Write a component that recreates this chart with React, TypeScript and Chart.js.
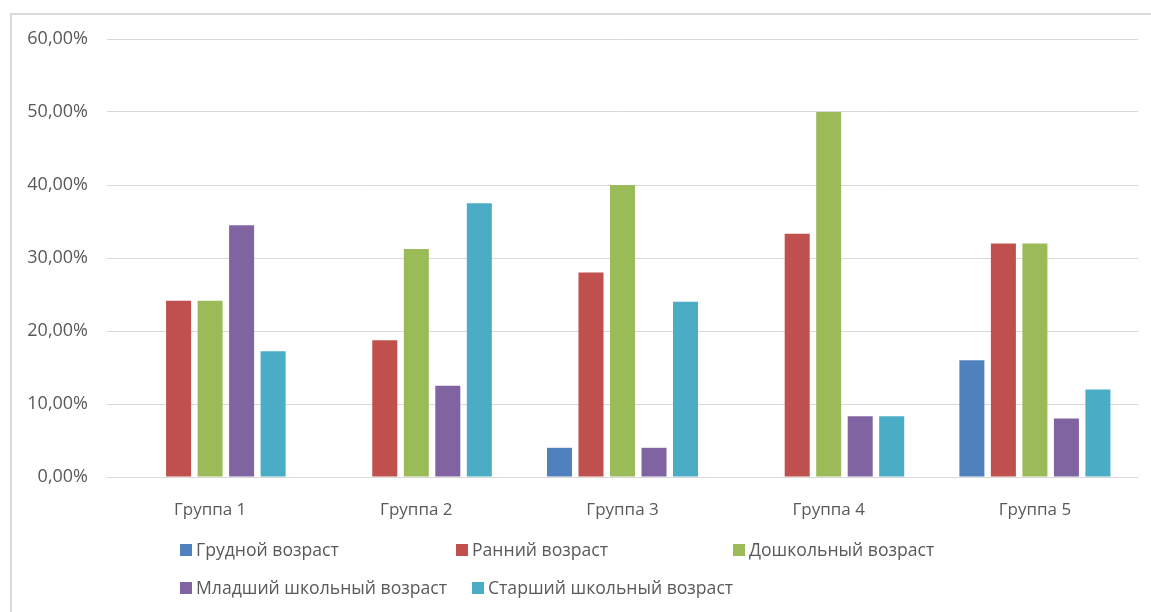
import React, { useEffect, useRef } from "react";
import { Chart, registerables } from "chart.js";

Chart.register(...registerables);

// Доли возрастных категорий по группам, %
const groups = ["Группа 1", "Группа 2", "Группа 3", "Группа 4", "Группа 5"];
const seriesNames = [
  "Грудной возраст",
  "Ранний возраст",
  "Дошкольный возраст",
  "Младший школьный возраст",
  "Старший школьный возраст",
];
const infant = [0, 0, 4, 0, 16];
const early = [24.14, 18.75, 28, 33.33, 32];
const preschool = [24.14, 31.25, 40, 50, 32];
const juniorSchool = [34.48, 12.5, 4, 8.33, 8];
const seniorSchool = [17.24, 37.5, 24, 8.33, 12];
const seriesColors = ["#4F81BD", "#C0504D", "#9BBB59", "#8064A2", "#4BACC6"];

const axisMin = 0;
const axisMax = 60;
const axisStep = 10;

const W = 1151;
const H = 612;
const FONT = "'Open Sans', 'Noto Sans', sans-serif";
const TEXT = "#595959";
const GRID = "#d9d9d9";

// Legend rows: dataset indices and horizontal offsets of each entry
const legendRows = [
  { items: [0, 1, 2], offsets: [0, 276, 553], baseline: 556 },
  { items: [3, 4], offsets: [0, 292], baseline: 594 },
];
const legendLeft = 180;
const legendBox = 12;

const legendPlugin = {
  id: "rowLegend",
  afterDraw(chart: any) {
    const ctx = chart.ctx;
    ctx.save();
    ctx.font = `17.6px ${FONT}`;
    ctx.textBaseline = "alphabetic";
    ctx.textAlign = "left";
    legendRows.forEach((row) => {
      row.items.forEach((di, k) => {
        const ds = chart.data.datasets[di];
        const x = legendLeft + row.offsets[k];
        ctx.fillStyle = ds.backgroundColor;
        ctx.fillRect(x, row.baseline - legendBox, legendBox, legendBox);
        ctx.fillStyle = TEXT;
        ctx.fillText(ds.label, x + legendBox + 4, row.baseline);
      });
    });
    ctx.restore();
  },
};

export default function App() {
  const canvasRef = useRef<HTMLCanvasElement | null>(null);

  useEffect(() => {
    const values = [infant, early, preschool, juniorSchool, seniorSchool];
    const chart = new Chart(canvasRef.current!, {
      type: "bar",
      data: {
        labels: groups,
        datasets: seriesNames.map((name, i) => ({
          label: name,
          data: values[i],
          backgroundColor: seriesColors[i],
          borderWidth: 0,
          categoryPercentage: 0.764,
          barPercentage: 0.794,
        })),
      },
      options: {
        responsive: false,
        animation: false,
        layout: { padding: { top: 39, right: 13, bottom: 0, left: 0 } },
        plugins: {
          legend: { display: false },
          tooltip: { enabled: false },
        },
        scales: {
          x: {
            grid: { display: false },
            border: { display: false },
            ticks: {
              color: TEXT,
              font: { family: FONT, size: 17 },
              padding: 15,
            },
            afterFit(scale: any) {
              scale.height = 135;
            },
          },
          y: {
            min: axisMin,
            max: axisMax,
            grid: { color: GRID, lineWidth: 1, drawTicks: false },
            border: { display: false },
            ticks: {
              stepSize: axisStep,
              color: TEXT,
              font: { family: FONT, size: 18 },
              padding: 19,
              callback: (v: any) => Number(v).toFixed(2).replace(".", ",") + "%",
            },
            afterFit(scale: any) {
              scale.width = 107;
            },
          },
        },
      },
      plugins: [legendPlugin],
    });
    return () => chart.destroy();
  }, []);

  return (
    <div
      style={{
        position: "fixed",
        left: 0,
        top: 0,
        width: W,
        height: H,
        overflow: "hidden",
        background: "#ffffff",
      }}
    >
      <div
        style={{
          position: "absolute",
          left: 10,
          top: 13,
          width: 1300,
          height: 800,
          border: "2px solid #dadada",
          boxSizing: "border-box",
        }}
      />
      <canvas
        ref={canvasRef}
        width={W}
        height={H}
        style={{ position: "absolute", left: 0, top: 0 }}
      />
    </div>
  );
}
